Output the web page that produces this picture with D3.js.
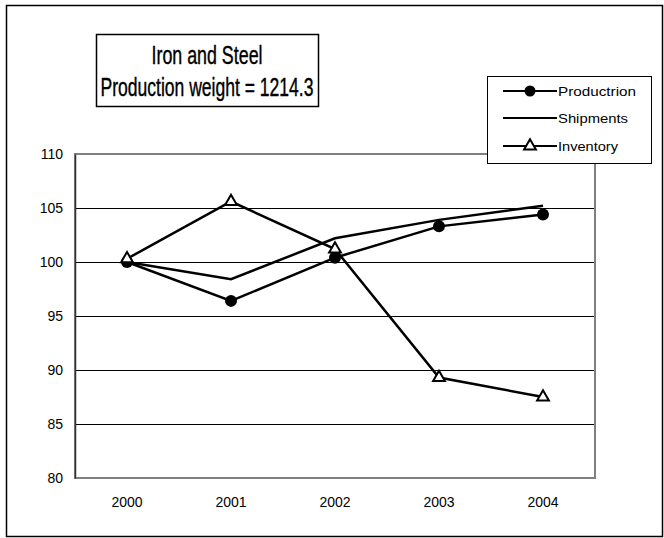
<!DOCTYPE html>
<html>
<head>
<meta charset="utf-8">
<script src="https://cdn.jsdelivr.net/npm/d3@7"></script>
<style>
  body { margin: 0; background: #fff; }
  text { font-family: "Liberation Sans", Arial, sans-serif; }
</style>
</head>
<body>
<div id="chart"></div>
<script>
var years = ["2000", "2001", "2002", "2003", "2004"];
var production = [100, 96.4, 100.4, 103.3, 104.4];
var shipments = [100, 98.4, 102.2, 103.9, 105.2];
var inventory = [100.3, 105.6, 101.2, 89.3, 87.5];
var yTicks = [80, 85, 90, 95, 100, 105, 110];
var titleLines = ["Iron and Steel", "Production weight = 1214.3"];
var legendNames = ["Productrion", "Shipments", "Inventory"];

var width = 664, height = 538;
var plot = { left: 75, right: 595, top: 154, bottom: 478 };

var svg = d3.select("#chart").append("svg")
    .attr("width", width)
    .attr("height", height);

// outer chart border
svg.append("rect")
    .attr("x", 6.5).attr("y", 5.5)
    .attr("width", 656).attr("height", 531)
    .attr("fill", "#fff")
    .attr("stroke", "#000")
    .attr("stroke-width", 1.5);

var xScale = d3.scaleBand()
    .domain(years)
    .range([plot.left, plot.right]);

var yScale = d3.scaleLinear()
    .domain([80, 110])
    .range([plot.bottom, plot.top]);

// gridlines
svg.append("g")
    .selectAll("line")
    .data(yTicks.slice(1))
    .enter().append("line")
    .attr("x1", plot.left).attr("x2", plot.right)
    .attr("y1", function(d) { return Math.round(yScale(d)) + 0.5; })
    .attr("y2", function(d) { return Math.round(yScale(d)) + 0.5; })
    .attr("stroke", "#000")
    .attr("stroke-width", 1);

// plot area border (gray)
svg.append("rect")
    .attr("x", plot.left).attr("y", plot.top)
    .attr("width", plot.right - plot.left)
    .attr("height", plot.bottom - plot.top)
    .attr("fill", "none")
    .attr("stroke", "#808080")
    .attr("stroke-width", 2);

// y axis
var yAxis = d3.axisLeft(yScale)
    .tickValues(yTicks)
    .tickSize(0)
    .tickPadding(12);

var gy = svg.append("g")
    .attr("transform", "translate(" + plot.left + ",0)")
    .call(yAxis);
gy.select(".domain").attr("stroke", "#333").attr("stroke-width", 1.5);
gy.selectAll("text")
    .attr("font-family", "Liberation Sans, Arial, sans-serif")
    .attr("font-size", 14)
    .attr("fill", "#000");

// x axis labels
var xAxis = d3.axisBottom(xScale)
    .tickSize(0)
    .tickPadding(19);

var gx = svg.append("g")
    .attr("transform", "translate(0," + plot.bottom + ")")
    .call(xAxis);
gx.select(".domain").remove();
gx.selectAll("text")
    .attr("font-family", "Liberation Sans, Arial, sans-serif")
    .attr("font-size", 14)
    .attr("fill", "#000");

function cx(i) { return xScale(years[i]) + xScale.bandwidth() / 2; }

var line = d3.line()
    .x(function(d, i) { return cx(i); })
    .y(function(d) { return yScale(d); });

[production, shipments, inventory].forEach(function(series) {
    svg.append("path")
        .attr("d", line(series))
        .attr("fill", "none")
        .attr("stroke", "#000")
        .attr("stroke-width", 2.5)
        .attr("stroke-linejoin", "miter");
});

var tri = d3.symbol().type(d3.symbolTriangle).size(60);

// production markers
svg.append("g").selectAll("circle")
    .data(production)
    .enter().append("circle")
    .attr("cx", function(d, i) { return cx(i); })
    .attr("cy", function(d) { return yScale(d); })
    .attr("r", 6)
    .attr("fill", "#000");

// inventory markers
svg.append("g").selectAll("path")
    .data(inventory)
    .enter().append("path")
    .attr("d", tri)
    .attr("transform", function(d, i) { return "translate(" + cx(i) + "," + yScale(d) + ")"; })
    .attr("fill", "#fff")
    .attr("stroke", "#000")
    .attr("stroke-width", 2);

// title box
var titleWidths = [111, 213];
var title = svg.append("g");
title.append("rect")
    .attr("x", 96.5).attr("y", 34.5)
    .attr("width", 222).attr("height", 72)
    .attr("fill", "#fff")
    .attr("stroke", "#000")
    .attr("stroke-width", 1.5);
title.selectAll("text")
    .data(titleLines)
    .enter().append("text")
    .attr("x", 207)
    .attr("y", function(d, i) { return 64 + i * 32; })
    .attr("text-anchor", "middle")
    .attr("font-size", 26)
    .attr("stroke", "#000")
    .attr("stroke-width", 0.4)
    .attr("textLength", function(d, i) { return titleWidths[i]; })
    .attr("lengthAdjust", "spacingAndGlyphs")
    .attr("fill", "#000")
    .text(function(d) { return d; });

// legend
var legend = svg.append("g");
legend.append("rect")
    .attr("x", 487.5).attr("y", 76.5)
    .attr("width", 164).attr("height", 87)
    .attr("fill", "#fff")
    .attr("stroke", "#000")
    .attr("stroke-width", 1);

var legendY = [91, 118, 146];
var legendWidths = [78, 70, 60];
legendNames.forEach(function(name, i) {
    var y = legendY[i];
    legend.append("line")
        .attr("x1", 503).attr("x2", 557)
        .attr("y1", y).attr("y2", y)
        .attr("stroke", "#000")
        .attr("stroke-width", 2);
    if (i === 0) {
        legend.append("circle")
            .attr("cx", 530).attr("cy", y).attr("r", 5.5)
            .attr("fill", "#000");
    } else if (i === 2) {
        legend.append("path")
            .attr("d", tri)
            .attr("transform", "translate(530," + y + ")")
            .attr("fill", "#fff")
            .attr("stroke", "#000")
            .attr("stroke-width", 2);
    }
    legend.append("text")
        .attr("x", 558)
        .attr("y", y + 4.5)
        .attr("font-size", 13)
        .attr("textLength", legendWidths[i])
        .attr("lengthAdjust", "spacingAndGlyphs")
        .attr("fill", "#000")
        .text(name);
});
</script>
</body>
</html>
